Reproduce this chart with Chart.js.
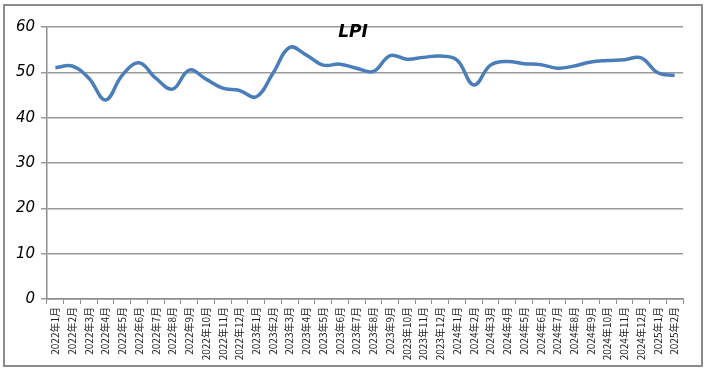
<!DOCTYPE html>
<html>
<head>
<meta charset="utf-8">
<script src="https://cdn.jsdelivr.net/npm/chart.js@4/dist/chart.umd.min.js"></script>
<style>
  body { margin: 0; background: #fff; }
  #wrap { width: 706px; height: 370px; }
</style>
</head>
<body>
<div id="wrap"><canvas id="lpi" width="706" height="370"></canvas></div>
<script>
const months = [
  "2022年1月", "2022年2月", "2022年3月", "2022年4月", "2022年5月", "2022年6月",
  "2022年7月", "2022年8月", "2022年9月", "2022年10月", "2022年11月", "2022年12月",
  "2023年1月", "2023年2月", "2023年3月", "2023年4月", "2023年5月", "2023年6月",
  "2023年7月", "2023年8月", "2023年9月", "2023年10月", "2023年11月", "2023年12月",
  "2024年1月", "2024年2月", "2024年3月", "2024年4月", "2024年5月", "2024年6月",
  "2024年7月", "2024年8月", "2024年9月", "2024年10月", "2024年11月", "2024年12月",
  "2025年1月", "2025年2月",
];
const lpiValues = [
  51.0, 51.4, 48.7, 43.9, 49.4, 52.1, 48.7, 46.3, 50.5, 48.5, 46.5, 46.0,
  44.6, 49.8, 55.5, 53.8, 51.6, 51.8, 50.9, 50.2, 53.7, 52.9, 53.3, 53.6,
  52.7, 47.2, 51.6, 52.4, 51.9, 51.7, 50.9, 51.4, 52.3, 52.6, 52.8, 53.2,
  49.9, 49.3,
];
const chartTitle = "LPI";

// outer frame + title inside the plot
const framePlugin = {
  id: "frame",
  afterDraw(chart) {
    const ctx = chart.ctx;
    const area = chart.chartArea;
    ctx.save();
    ctx.strokeStyle = "#8c8c8c";
    ctx.lineWidth = 2;
    ctx.strokeRect(4, 5, chart.width - 8, chart.height - 9);
    ctx.fillStyle = "#000";
    ctx.font = "bold italic 17px 'DejaVu Sans'";
    ctx.textAlign = "center";
    ctx.textBaseline = "middle";
    ctx.fillText(chartTitle, (area.left + area.right) / 2 - 12, area.top + 6);
    ctx.restore();
  },
};

new Chart(document.getElementById("lpi"), {
  type: "line",
  data: {
    labels: months,
    datasets: [
      {
        label: chartTitle,
        data: lpiValues,
        borderColor: "#4a7ebb",
        borderWidth: 3.5,
        tension: 0.4,
        pointRadius: 0,
        fill: false,
      },
    ],
  },
  options: {
    responsive: false,
    animation: false,
    layout: { padding: { top: 27, right: 23, left: 0, bottom: 0 } },
    plugins: {
      legend: { display: false },
      tooltip: { enabled: false },
    },
    scales: {
      x: {
        offset: true,
        afterFit: (scale) => {
          scale.height = 71;
        },
        border: { color: "#8c8c8c", width: 1.5 },
        grid: {
          offset: true,
          drawOnChartArea: false,
          color: "#8c8c8c",
          tickLength: 5,
        },
        ticks: {
          autoSkip: false,
          minRotation: 90,
          maxRotation: 90,
          padding: 3,
          color: "#222",
          font: { family: "'Noto Sans CJK SC'", size: 10 },
        },
      },
      y: {
        min: 0,
        max: 60,
        afterFit: (scale) => {
          scale.width = 47;
        },
        border: { color: "#8c8c8c", width: 1.5 },
        grid: {
          color: "#9a9a9a",
          lineWidth: 1.5,
          tickLength: 6,
        },
        ticks: {
          stepSize: 10,
          padding: 6,
          color: "#000",
          font: { family: "'DejaVu Sans'", style: "italic", size: 15 },
        },
      },
    },
  },
  plugins: [framePlugin],
});
</script>
</body>
</html>
